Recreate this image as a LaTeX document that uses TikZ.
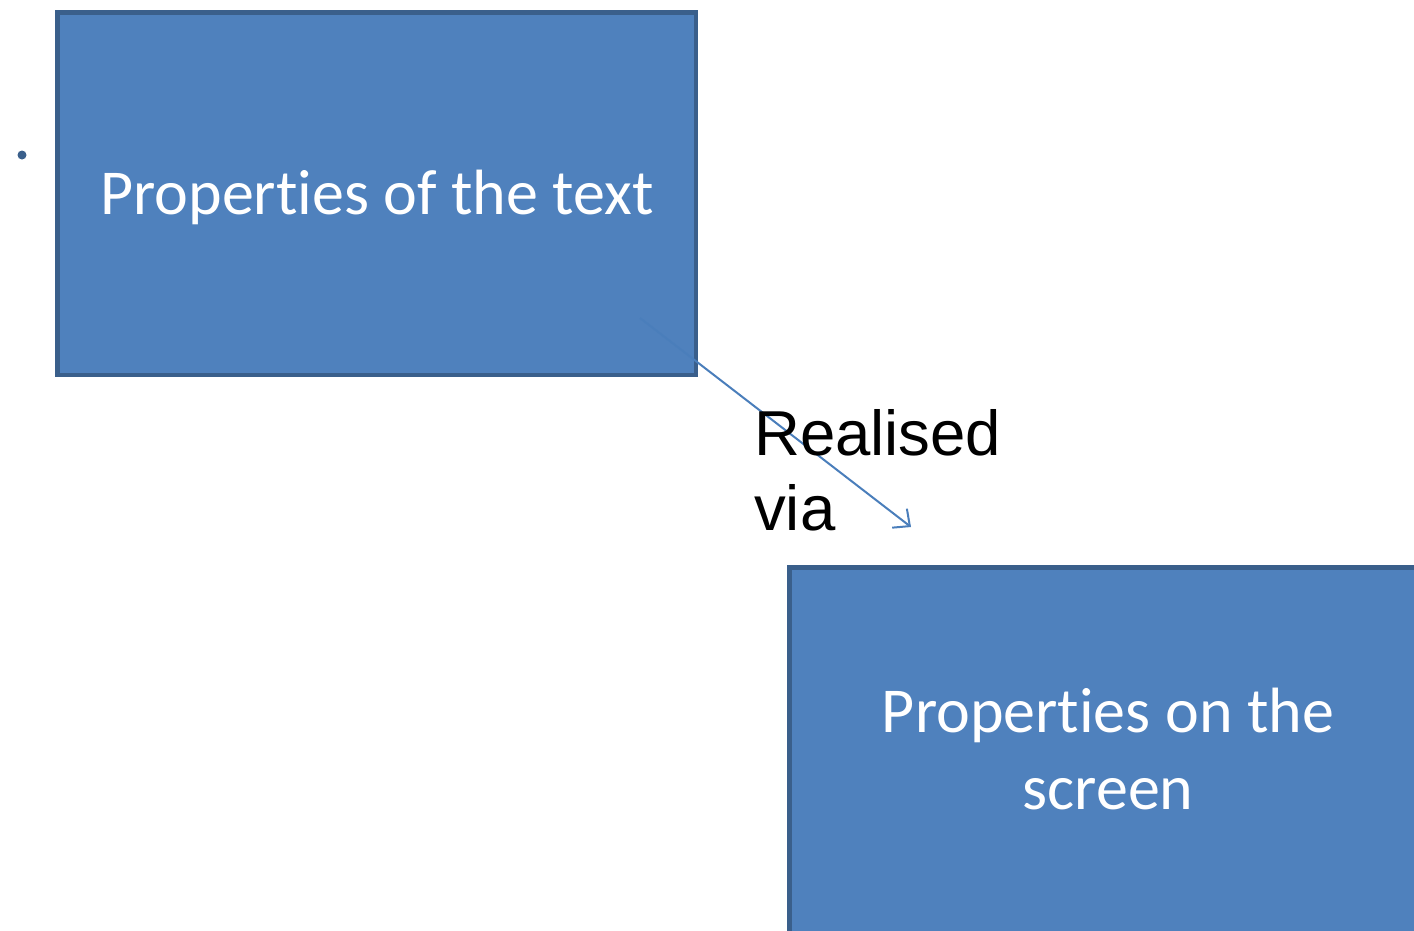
\documentclass[tikz,border=0pt]{standalone}
\usepackage{fontspec}
\setmainfont[Ligatures=NoCommon]{Carlito}
\newfontfamily\labelfont{Liberation Sans}
\usetikzlibrary{arrows.meta}
\definecolor{boxfill}{HTML}{4F81BD}
\definecolor{boxline}{HTML}{3A5F8B}
\definecolor{linkcol}{HTML}{4A7EBB}
\tikzset{
  propbox/.style={draw=boxline, fill=boxfill, line width=4.5pt, rectangle,
    anchor=north west, inner sep=0pt, minimum width=638.5pt, minimum height=362.5pt},
  boxtext/.style={text=white, font=\fontsize{64}{77}\selectfont, align=center},
  linklabel/.style={font=\labelfont\fontsize{63.5}{75}\selectfont, align=left,
    anchor=north west, inner sep=0pt},
  link/.style={draw=linkcol, line width=2pt, -{Straight Barb[length=13pt,width=24pt,line width=2pt]}}
}
\begin{document}
\begin{tikzpicture}[x=1pt,y=-1pt]
\useasboundingbox (0,0) rectangle (1414,930);
% boxes (anchors sit on the outer edge of the frame)
\node[propbox] (b1) at (55,10) {};
\node[propbox, minimum height=400pt] (b2) at (787,565) {};
\node[boxtext] (t1) at (377,197) {Properties of the text};
\node[boxtext] (t2) at (1108,749) {Properties on the\\screen};
% small bullet left of the first box
\fill[boxline] (22,155) circle (4.5pt);
% connector with its label
\coordinate (s) at (640,318);
\coordinate (e) at (911,527);
\draw[link] (s) -- (e);
\node[linklabel] (lbl) at (754,409) {Realised\\via};
\end{tikzpicture}
\end{document}
